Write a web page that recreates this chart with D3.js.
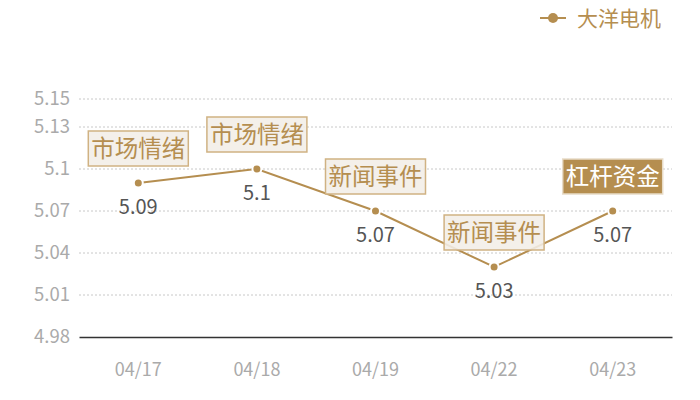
<!DOCTYPE html>
<html lang="zh">
<head>
<meta charset="utf-8">
<script src="https://cdn.jsdelivr.net/npm/d3@7"></script>
<style>
  body { margin: 0; background: #fff; }
  svg { display: block; font-family: "Noto Sans CJK SC", "Noto Sans", sans-serif; }
</style>
</head>
<body>
<div id="chart"></div>
<script>
// data
const dates = ["04/17", "04/18", "04/19", "04/22", "04/23"];
const prices = [5.09, 5.1, 5.07, 5.03, 5.07];
const notes = ["市场情绪", "市场情绪", "新闻事件", "新闻事件", "杠杆资金"];
const highlighted = [false, false, false, false, true];
const yTicks = [4.98, 5.01, 5.04, 5.07, 5.1, 5.13, 5.15];
const seriesName = "大洋电机";

const width = 700, height = 400;
const gold = "#b58e50";
const margin = { top: 99, right: 28, bottom: 63, left: 79 };

const svg = d3.select("#chart").append("svg")
  .attr("width", width)
  .attr("height", height);

const x = d3.scaleBand()
  .domain(dates)
  .range([margin.left, width - margin.right]);

const y = d3.scaleLinear()
  .domain([4.98, 5.15])
  .range([height - margin.bottom, margin.top]);

const cx = d => x(d) + x.bandwidth() / 2;

// grid lines
svg.append("g")
  .selectAll("line")
  .data(yTicks.slice(1))
  .join("line")
  .attr("x1", margin.left)
  .attr("x2", width - margin.right)
  .attr("y1", d => y(d))
  .attr("y2", d => y(d))
  .attr("stroke", "#c8c8c8")
  .attr("stroke-dasharray", "2,2");

// y axis
const yAxis = svg.append("g")
  .attr("transform", `translate(${margin.left},0)`)
  .call(d3.axisLeft(y).tickValues(yTicks).tickFormat(d => String(+d.toFixed(2))).tickSize(0).tickPadding(9));
yAxis.select(".domain").remove();
yAxis.selectAll("text")
  .attr("fill", "#aaa")
  .style("font-size", "18.5px")
  .style("font-family", "'Noto Sans CJK SC', sans-serif");

// x axis
const xAxis = svg.append("g")
  .attr("transform", `translate(0,${height - margin.bottom})`)
  .call(d3.axisBottom(x).tickSize(0).tickPadding(26));
xAxis.select(".domain").attr("stroke", "#333").attr("stroke-width", 1.3);
xAxis.selectAll("text")
  .attr("fill", "#aaa")
  .style("font-size", "18px")
  .style("font-family", "'Noto Sans CJK SC', sans-serif");

// line
const line = d3.line()
  .x((d, i) => cx(dates[i]))
  .y(d => y(d));

svg.append("path")
  .datum(prices)
  .attr("d", line)
  .attr("fill", "none")
  .attr("stroke", gold)
  .attr("stroke-width", 2);

// points
svg.append("g")
  .selectAll("circle")
  .data(prices)
  .join("circle")
  .attr("cx", (d, i) => cx(dates[i]))
  .attr("cy", d => y(d))
  .attr("r", 4.5)
  .attr("fill", gold)
  .attr("stroke", "#fff")
  .attr("stroke-width", 2);

// value labels
svg.append("g")
  .selectAll("text")
  .data(prices)
  .join("text")
  .attr("x", (d, i) => cx(dates[i]))
  .attr("y", d => y(d) + 31)
  .attr("text-anchor", "middle")
  .attr("fill", "#555")
  .style("font-size", "20px")
  .text(d => d);

// annotation boxes
const boxW = 100, boxH = 35;
const ann = svg.append("g")
  .selectAll("g")
  .data(notes)
  .join("g")
  .attr("transform", (d, i) => `translate(${cx(dates[i]) - boxW / 2},${y(prices[i]) - 17 - boxH})`);

ann.append("rect")
  .attr("width", boxW)
  .attr("height", boxH)
  .attr("fill", (d, i) => highlighted[i] ? gold : "#f3eee7")
  .attr("fill-opacity", (d, i) => highlighted[i] ? 1 : 0.88)
  .attr("stroke", (d, i) => highlighted[i] ? "#e8dcc8" : "#d0b283")
  .attr("stroke-width", 1.5);

ann.append("text")
  .attr("x", boxW / 2)
  .attr("y", boxH / 2 + 8.5)
  .attr("text-anchor", "middle")
  .attr("fill", (d, i) => highlighted[i] ? "#fff" : gold)
  .style("font-size", "23.5px")
  .text(d => d);

// legend
const legend = svg.append("g").attr("transform", "translate(549,18)");
legend.append("line")
  .attr("x1", -9).attr("x2", 17)
  .attr("stroke", gold).attr("stroke-width", 2);
legend.append("circle")
  .attr("cx", 4).attr("r", 5)
  .attr("fill", gold);
legend.append("text")
  .attr("x", 28).attr("y", 8)
  .attr("fill", gold)
  .style("font-size", "21px")
  .text(seriesName);
</script>
</body>
</html>
